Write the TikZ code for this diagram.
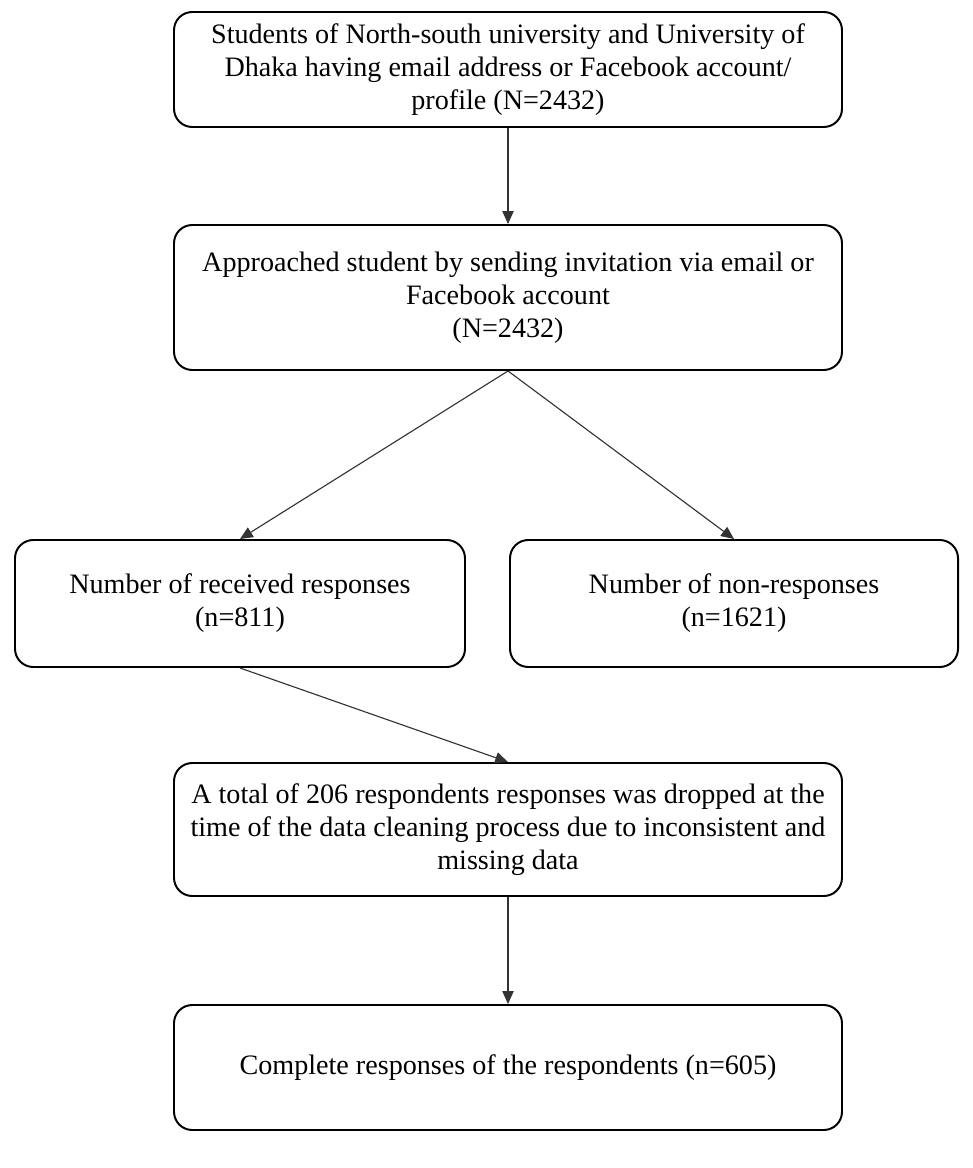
\documentclass[tikz,border=0pt]{standalone}
\usepackage{fontspec}
\setmainfont{Liberation Serif}
\usepackage{tikz}
\usetikzlibrary{arrows.meta}
\tikzset{>={Triangle[length=3.2mm,width=2.8mm]}}
\tikzset{
  stagebox/.style={draw,line width=1.4pt,rounded corners=13pt,align=center,
    inner sep=0pt,font=\fontsize{20}{23.5}\selectfont},
  flowline/.style={->,line width=0.8pt,black!80}
}

\begin{document}
\begin{tikzpicture}[x=0.025cm,y=-0.025cm]
    \useasboundingbox (0,0) rectangle (972,1168);
    \node[stagebox,minimum width=668*0.025cm,minimum height=115*0.025cm] (pool) at (508,69.5)
      {Students of North-south university and University of\\ Dhaka having email address or Facebook account/\\ profile (N=2432)};
    \node[stagebox,minimum width=668*0.025cm,minimum height=145*0.025cm] (invite) at (508,297.5)
      {Approached student by sending invitation via email or\\ Facebook account\\ (N=2432)};
    \node[stagebox,minimum width=450*0.025cm,minimum height=127*0.025cm] (resp) at (240,603.5)
      {Number of received responses\\ (n=811)};
    \node[stagebox,minimum width=448*0.025cm,minimum height=127*0.025cm] (nonresp) at (734,603.5)
      {Number of non-responses\\ (n=1621)};
    \node[stagebox,minimum width=668*0.025cm,minimum height=133*0.025cm] (drop) at (508,829.5)
      {A total of 206 respondents responses was dropped at the\\ time of the data cleaning process due to inconsistent and\\ missing data};
    \node[stagebox,minimum width=668*0.025cm,minimum height=125*0.025cm] (final) at (508,1067.5)
      {Complete responses of the respondents (n=605)};
    % connectors
    \draw[flowline] (pool.south) -- (invite.north);
    \draw[flowline] (invite.south) -- (resp.north);
    \draw[flowline] (invite.south) -- (nonresp.north);
    \draw[flowline] (resp.south) -- (drop.north);
    \draw[flowline] (drop.south) -- (final.north);
  \end{tikzpicture}
\end{document}
